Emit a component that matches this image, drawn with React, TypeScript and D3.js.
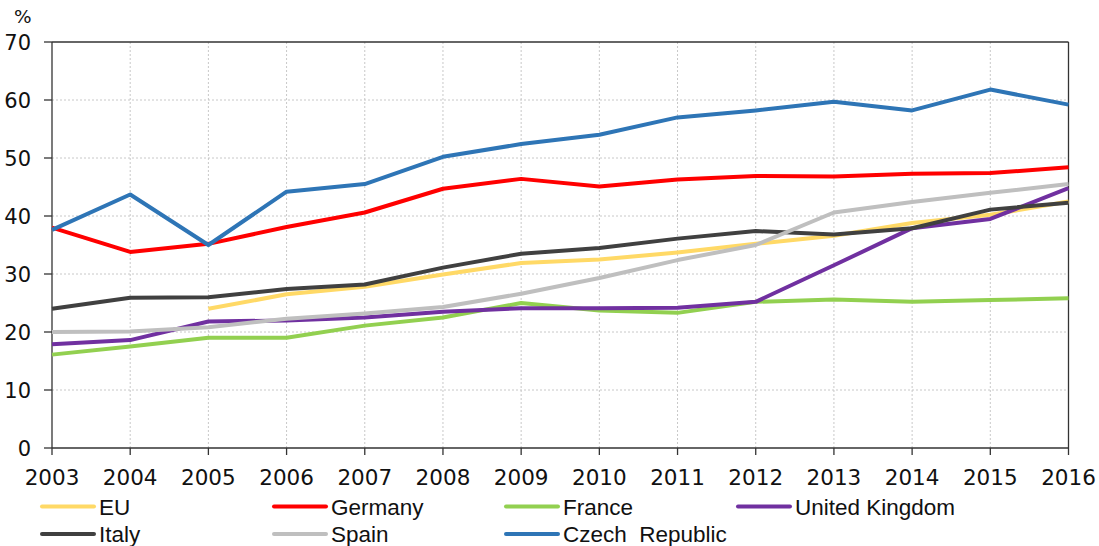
import { useEffect, useRef } from "react"
import * as d3 from "d3"

const years = [2003, 2004, 2005, 2006, 2007, 2008, 2009, 2010, 2011, 2012, 2013, 2014, 2015, 2016]
const yTicks = [0, 10, 20, 30, 40, 50, 60, 70]

const eu = [null, null, 24.0, 26.5, 27.8, 29.9, 31.9, 32.5, 33.7, 35.2, 36.6, 38.8, 40.2, 42.5]
const germany = [38.0, 33.8, 35.2, 38.1, 40.6, 44.7, 46.4, 45.1, 46.3, 46.9, 46.8, 47.3, 47.4, 48.4]
const france = [16.1, 17.5, 19.0, 19.0, 21.1, 22.5, 25.0, 23.7, 23.3, 25.2, 25.6, 25.2, 25.5, 25.8]
const uk = [17.9, 18.6, 21.8, 22.0, 22.5, 23.5, 24.1, 24.1, 24.2, 25.2, 31.5, 37.9, 39.5, 44.8]
const italy = [24.0, 25.9, 26.0, 27.4, 28.2, 31.1, 33.5, 34.5, 36.1, 37.4, 36.8, 37.9, 41.1, 42.3]
const spain = [20.0, 20.1, 20.8, 22.3, 23.2, 24.3, 26.6, 29.3, 32.4, 35.0, 40.6, 42.4, 44.0, 45.5]
const czech = [37.6, 43.7, 35.0, 44.2, 45.5, 50.2, 52.4, 54.0, 57.0, 58.2, 59.7, 58.2, 61.8, 59.2]

const series = [
  { name: "EU", values: eu, color: "#ffd966" },
  { name: "Germany", values: germany, color: "#ff0000" },
  { name: "France", values: france, color: "#92d050" },
  { name: "United Kingdom", values: uk, color: "#7030a0" },
  { name: "Italy", values: italy, color: "#404040" },
  { name: "Spain", values: spain, color: "#bfbfbf" },
  { name: "Czech  Republic", values: czech, color: "#2e75b6" },
]

const W = 1099
const H = 546
const font = "'DejaVu Sans', sans-serif"

export default function App() {
  const ref = useRef<SVGSVGElement>(null)

  useEffect(() => {
    document.body.style.margin = "0"
    const svg = d3.select(ref.current)
    svg.selectAll("*").remove()

    const left = 52, right = 1068.5, top = 42, bottom = 448

    const x = d3.scaleLinear().domain([2003, 2016]).range([left, right])
    const y = d3.scaleLinear().domain([0, 70]).range([bottom, top])

    const g = svg.append("g")

    // gridlines
    g.selectAll(".hgrid")
      .data(yTicks.slice(1, -1))
      .join("line")
      .attr("x1", left).attr("x2", right)
      .attr("y1", d => y(d)).attr("y2", d => y(d))
      .attr("stroke", "#c8c8c8")
      .attr("stroke-width", 1)
      .attr("stroke-dasharray", "2,2")

    g.selectAll(".vgrid")
      .data(years.slice(1, -1))
      .join("line")
      .attr("x1", d => x(d)).attr("x2", d => x(d))
      .attr("y1", top).attr("y2", bottom)
      .attr("stroke", "#c8c8c8")
      .attr("stroke-width", 1)
      .attr("stroke-dasharray", "2,2")

    // plot frame
    g.append("line").attr("x1", left).attr("x2", right).attr("y1", top).attr("y2", top)
      .attr("stroke", "#333").attr("stroke-width", 1.3)
    g.append("line").attr("x1", right).attr("x2", right).attr("y1", top).attr("y2", bottom)
      .attr("stroke", "#333").attr("stroke-width", 1.3)

    // y axis
    g.append("line").attr("x1", left).attr("x2", left).attr("y1", top).attr("y2", bottom)
      .attr("stroke", "#333").attr("stroke-width", 1.3)
    g.selectAll(".ytick")
      .data(yTicks)
      .join("line")
      .attr("x1", left - 8).attr("x2", left)
      .attr("y1", d => y(d)).attr("y2", d => y(d))
      .attr("stroke", "#333").attr("stroke-width", 1.3)
    g.selectAll(".ylab")
      .data(yTicks)
      .join("text")
      .attr("x", 31)
      .attr("y", d => y(d))
      .attr("dy", "0.36em")
      .attr("text-anchor", "end")
      .attr("font-family", font)
      .attr("font-size", 21)
      .attr("fill", "#111")
      .text(d => d)

    g.append("text")
      .attr("x", 14).attr("y", 23)
      .attr("font-family", font)
      .attr("font-size", 18.5)
      .attr("fill", "#111")
      .text("%")

    // x axis
    g.append("line").attr("x1", left).attr("x2", right).attr("y1", bottom).attr("y2", bottom)
      .attr("stroke", "#333").attr("stroke-width", 1.3)
    g.selectAll(".xtick")
      .data(years)
      .join("line")
      .attr("x1", d => x(d)).attr("x2", d => x(d))
      .attr("y1", bottom).attr("y2", bottom + 7)
      .attr("stroke", "#333").attr("stroke-width", 1.3)
    g.selectAll(".xlab")
      .data(years)
      .join("text")
      .attr("x", d => x(d))
      .attr("y", 485)
      .attr("text-anchor", "middle")
      .attr("font-family", font)
      .attr("font-size", 21.5)
      .attr("fill", "#111")
      .text(d => d)

    // series lines
    const line = d3.line<number | null>()
      .defined(d => d !== null)
      .x((_, i) => x(years[i]))
      .y(d => y(d as number))

    series.forEach(s => {
      g.append("path")
        .datum(s.values)
        .attr("d", line)
        .attr("fill", "none")
        .attr("stroke", s.color)
        .attr("stroke-width", 4)
        .attr("stroke-linejoin", "round")
    })

    // legend
    const legend = g.append("g")
    series.forEach((s, i) => {
      const col = i % 4
      const row = Math.floor(i / 4)
      const lx = 42 + col * 232
      const ly = 506.5 + row * 27.5
      legend.append("line")
        .attr("x1", lx).attr("x2", lx + 52)
        .attr("y1", ly).attr("y2", ly)
        .attr("stroke", s.color)
        .attr("stroke-width", 4)
        .attr("stroke-linecap", "round")
      legend.append("text")
        .attr("x", lx + 57)
        .attr("y", ly)
        .attr("dy", "0.36em")
        .attr("font-family", "'Liberation Sans', Arial, sans-serif")
        .attr("font-size", 22.5)
        .attr("fill", "#111")
        .attr("xml:space", "preserve")
        .style("white-space", "pre")
        .text(s.name)
    })
  }, [])

  return <svg ref={ref} width={W} height={H} style={{ display: "block", background: "#fff" }} />
}
